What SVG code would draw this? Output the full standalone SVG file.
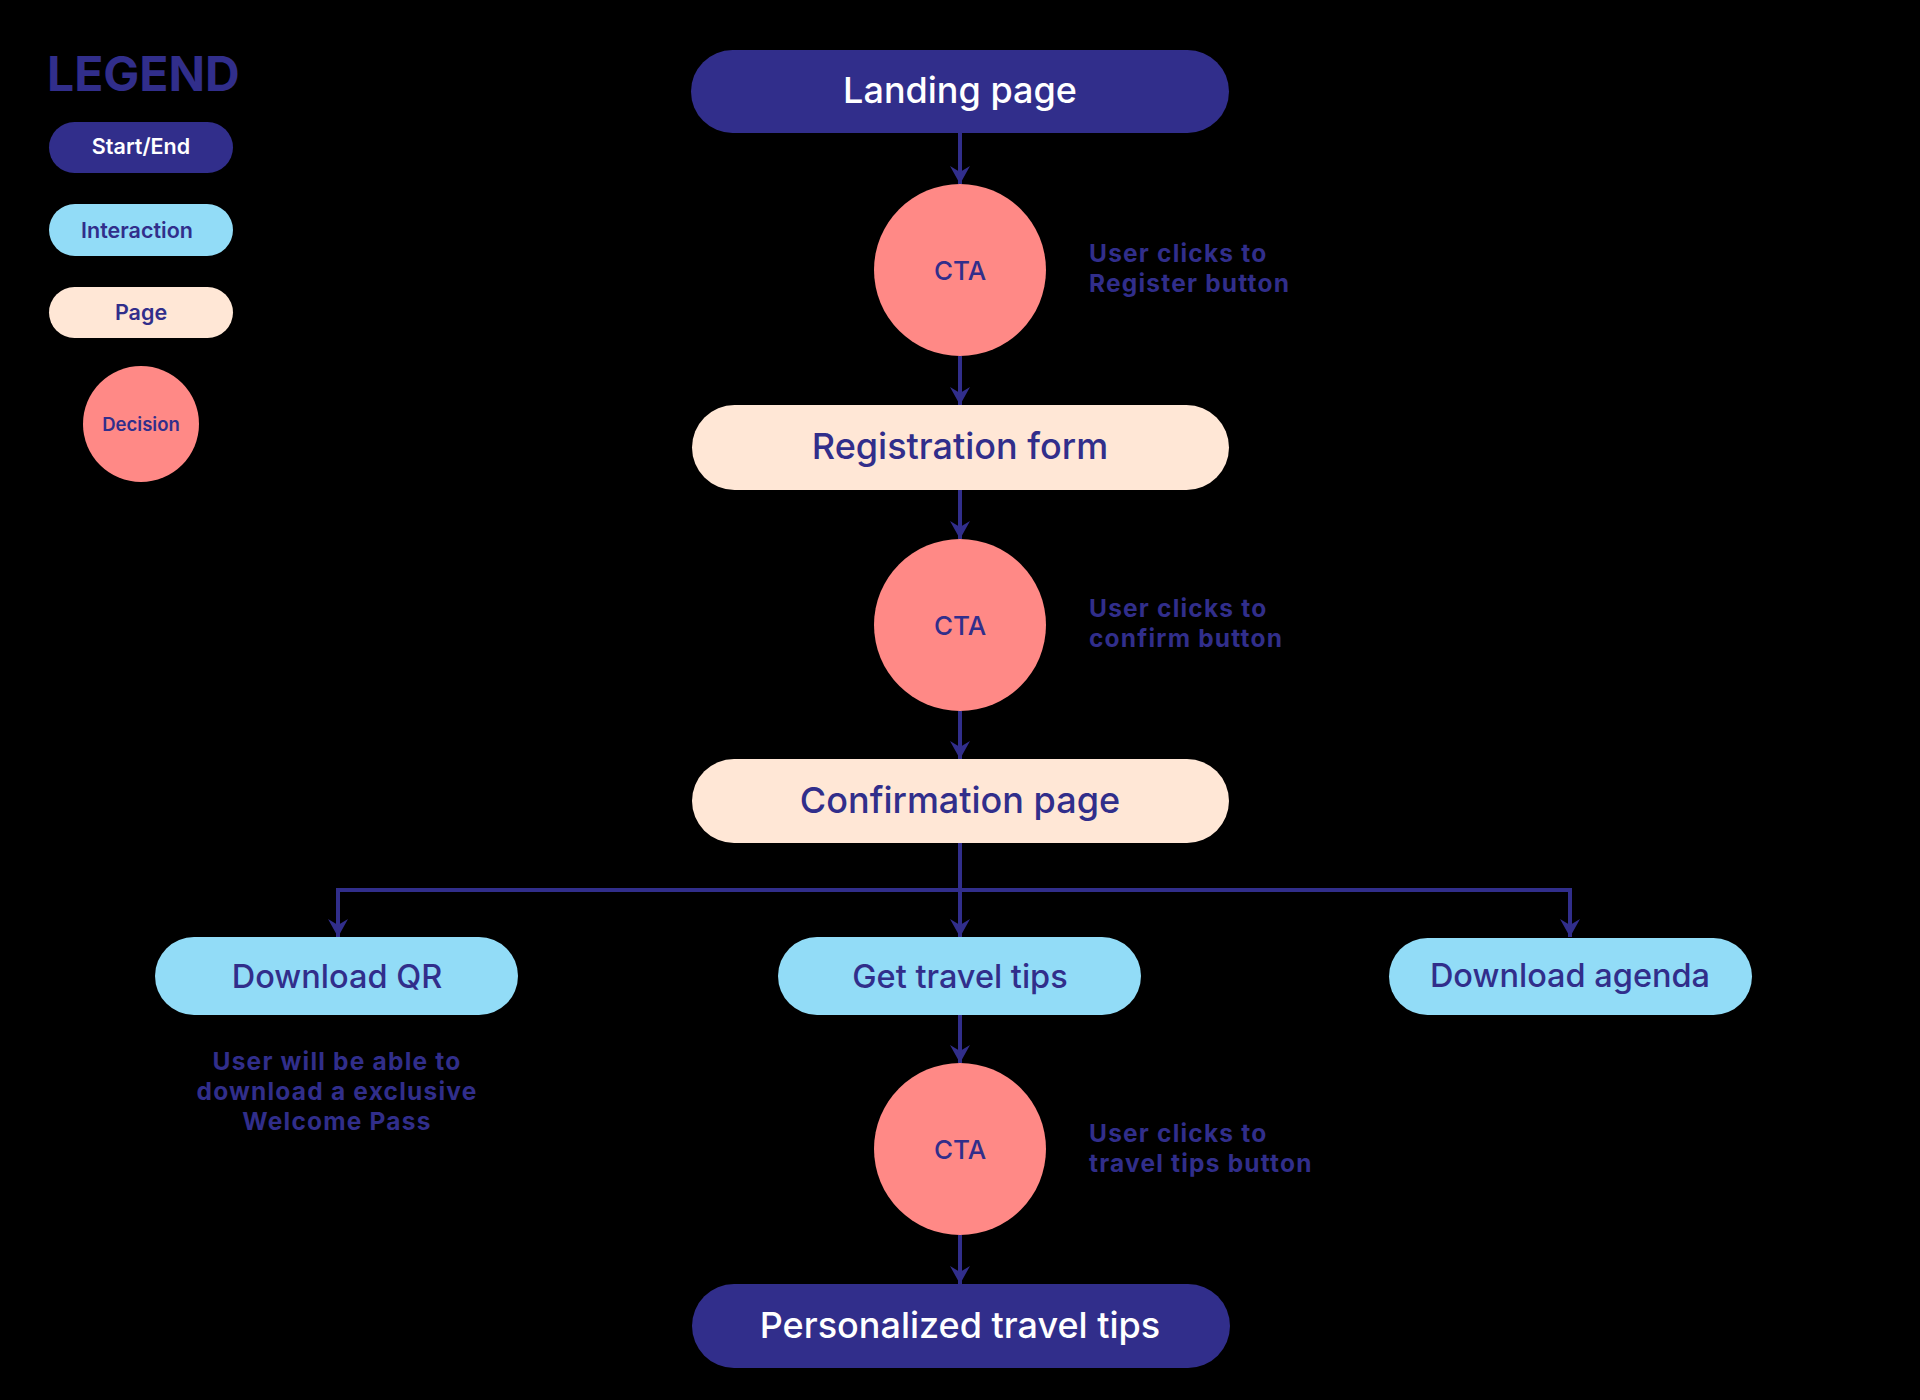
<svg xmlns="http://www.w3.org/2000/svg" width="1920" height="1400" viewBox="0 0 1920 1400">
<defs>
<style>
.bg{fill:#000000}
.start{fill:#312E8B}
.inter{fill:#92DCF7}
.page{fill:#FFE7D6}
.dec{fill:#FF8986}
.t{font-family:Inter,"DejaVu Sans",sans-serif;text-anchor:middle}
.tw{fill:#FFFFFF}
.tb{fill:#312E8B}
.main{font-size:36px;font-weight:500}
.mid{font-size:32.5px;font-weight:500}
.cta{font-size:26px;font-weight:500}
.note{font-family:Inter,"DejaVu Sans",sans-serif;font-size:24.5px;font-weight:700;letter-spacing:1.2px;fill:#312E8B}
.leg{font-size:21.5px;font-weight:600}
.conn{fill:none;stroke:#312E8B;stroke-width:4}
</style>
<marker id="arr" markerUnits="userSpaceOnUse" viewBox="0 0 18 20" refX="18" refY="10" markerWidth="18" markerHeight="20" orient="auto">
<path d="M0,0 L18,10 L0,20 L6,10 Z" fill="#312E8B"/>
</marker>
</defs>
<rect class="bg" x="0" y="0" width="1920" height="1400"/>

<g id="legend">
<text x="47" y="91" style="font-family:Inter,'DejaVu Sans',sans-serif;font-size:48px;font-weight:700;fill:#312E8B">LEGEND</text>
<g id="legend-start"><rect class="start" x="49" y="122" width="184" height="51" rx="25.5"/><text class="t tw leg" x="141" y="154">Start/End</text></g>
<g id="legend-interaction"><rect class="inter" x="49" y="204" width="184" height="52" rx="26"/><text class="t tb leg" x="137" y="238">Interaction</text></g>
<g id="legend-page"><rect class="page" x="49" y="287" width="184" height="51" rx="25.5"/><text class="t tb leg" x="141" y="320">Page</text></g>
<g id="legend-decision"><circle class="dec" cx="141" cy="424" r="58"/><text class="t tb" x="141" y="431" style="font-size:18.5px;font-weight:600">Decision</text></g>
</g>

<g id="connectors">
<line class="conn" x1="960" y1="133" x2="960" y2="184" marker-end="url(#arr)"/>
<line class="conn" x1="960" y1="356" x2="960" y2="405" marker-end="url(#arr)"/>
<line class="conn" x1="960" y1="490" x2="960" y2="539" marker-end="url(#arr)"/>
<line class="conn" x1="960" y1="711" x2="960" y2="759" marker-end="url(#arr)"/>
<line class="conn" x1="960" y1="843" x2="960" y2="937" marker-end="url(#arr)"/>
<polyline class="conn" points="960,890 338,890 338,937" marker-end="url(#arr)"/>
<polyline class="conn" points="960,890 1570,890 1570,937" marker-end="url(#arr)"/>
<line class="conn" x1="960" y1="1015" x2="960" y2="1063" marker-end="url(#arr)"/>
<line class="conn" x1="960" y1="1235" x2="960" y2="1284" marker-end="url(#arr)"/>
</g>

<g id="landing-page"><rect class="start" x="691" y="50" width="538" height="83" rx="41.5"/><text class="t tw main" x="960" y="103">Landing page</text></g>
<g id="cta-1"><circle class="dec" cx="960" cy="270" r="86"/><text class="t tb cta" x="960" y="280">CTA</text></g>
<g id="note-1"><text class="note" x="1089" y="262"><tspan x="1089" y="262">User clicks to</tspan><tspan x="1089" y="292">Register button</tspan></text></g>
<g id="registration-form"><rect class="page" x="692" y="405" width="537" height="85" rx="42.5"/><text class="t tb main" x="960" y="459">Registration form</text></g>
<g id="cta-2"><circle class="dec" cx="960" cy="625" r="86"/><text class="t tb cta" x="960" y="635">CTA</text></g>
<g id="note-2"><text class="note" x="1089" y="617"><tspan x="1089" y="617">User clicks to</tspan><tspan x="1089" y="647">confirm button</tspan></text></g>
<g id="confirmation-page"><rect class="page" x="692" y="759" width="537" height="84" rx="42"/><text class="t tb main" x="960" y="813">Confirmation page</text></g>
<g id="download-qr"><rect class="inter" x="155" y="937" width="363" height="78" rx="39"/><text class="t tb mid" x="337" y="988">Download QR</text></g>
<g id="note-qr"><text class="note" x="337" y="1070" text-anchor="middle"><tspan x="337" y="1070">User will be able to</tspan><tspan x="337" y="1100">download a exclusive</tspan><tspan x="337" y="1130">Welcome Pass</tspan></text></g>
<g id="get-travel-tips"><rect class="inter" x="778" y="937" width="363" height="78" rx="39"/><text class="t tb mid" x="960" y="988">Get travel tips</text></g>
<g id="download-agenda"><rect class="inter" x="1389" y="938" width="363" height="77" rx="38.5"/><text class="t tb mid" x="1570" y="987">Download agenda</text></g>
<g id="cta-3"><circle class="dec" cx="960" cy="1149" r="86"/><text class="t tb cta" x="960" y="1159">CTA</text></g>
<g id="note-3"><text class="note" x="1089" y="1142"><tspan x="1089" y="1142">User clicks to</tspan><tspan x="1089" y="1172">travel tips button</tspan></text></g>
<g id="personalized-travel-tips"><rect class="start" x="692" y="1284" width="538" height="84" rx="42"/><text class="t tw main" x="960" y="1338">Personalized travel tips</text></g>
</svg>
